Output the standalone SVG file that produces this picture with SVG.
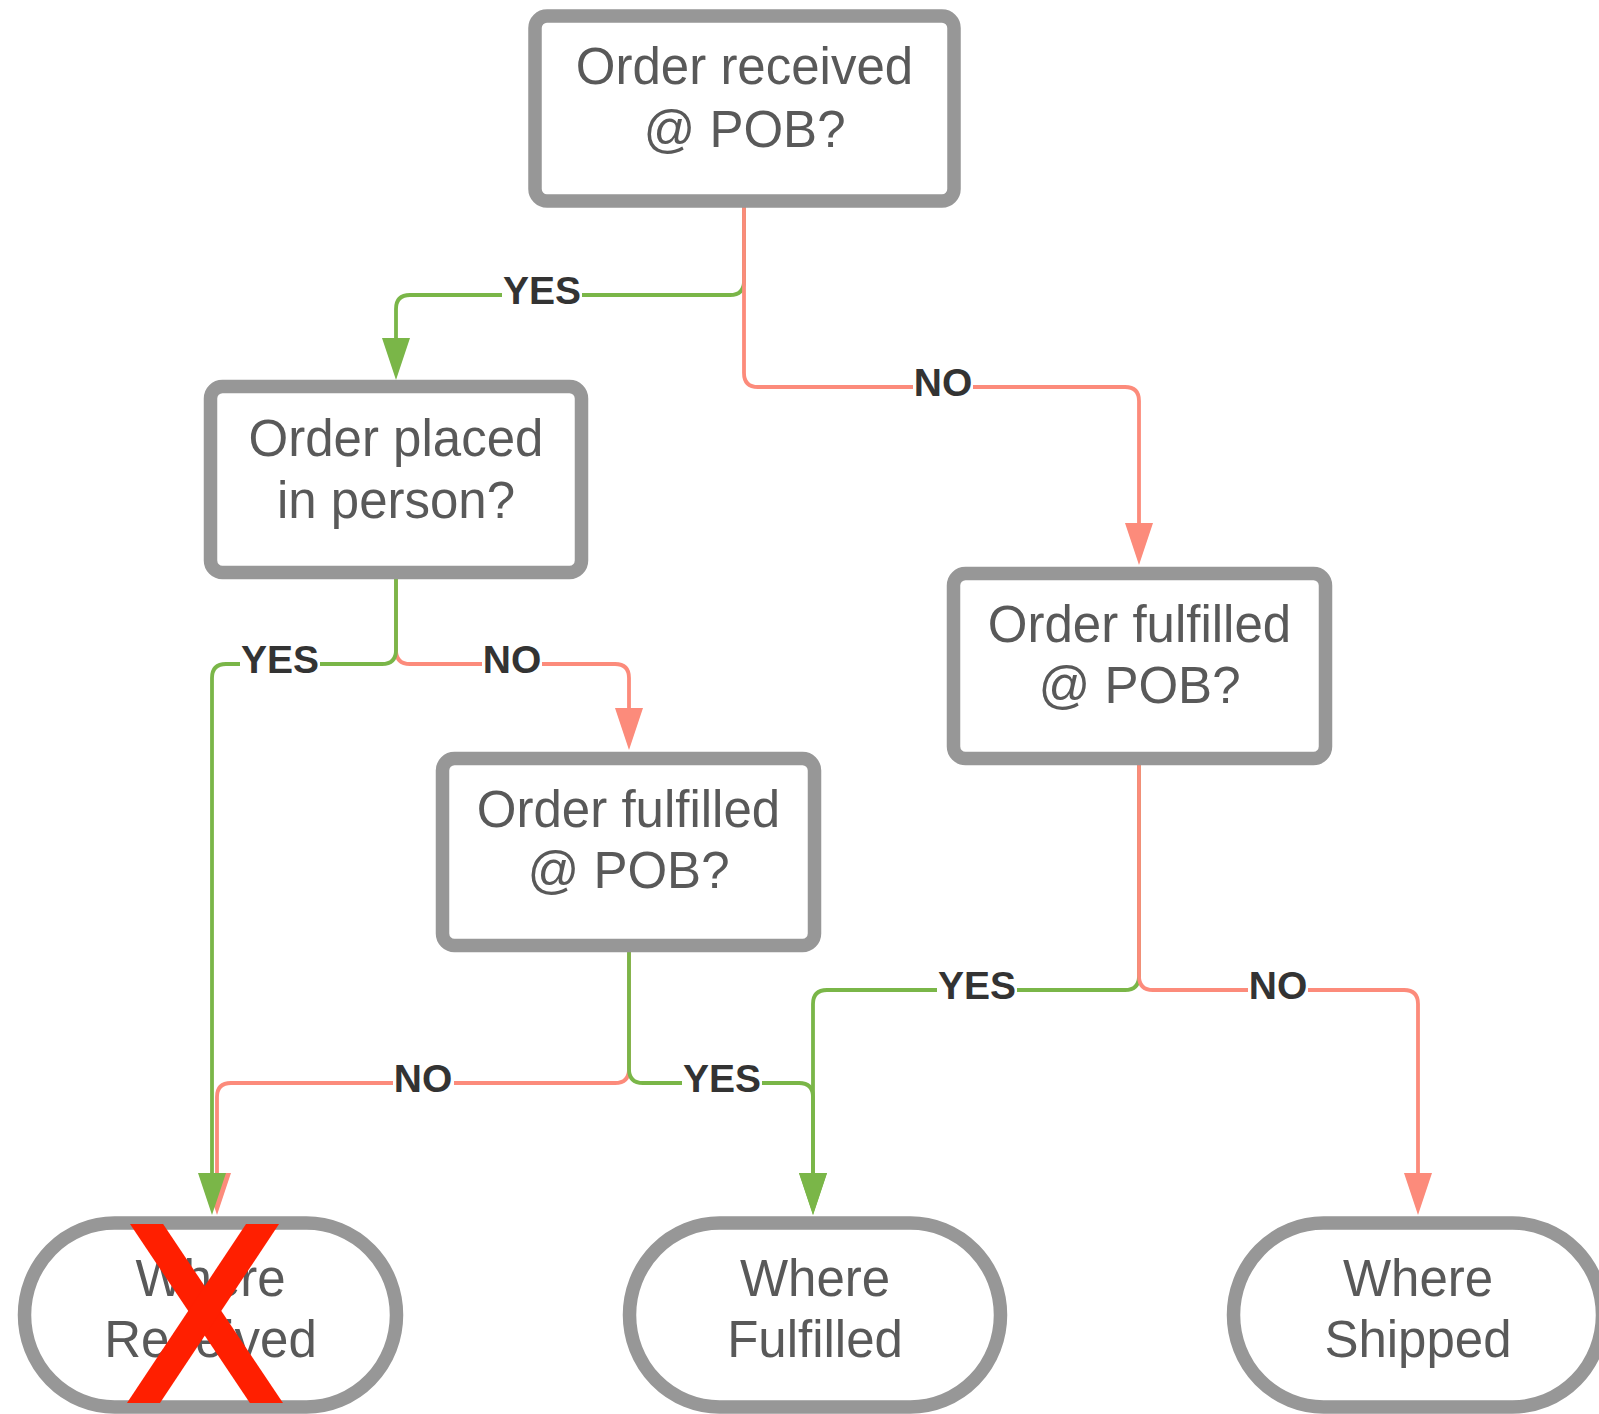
<svg xmlns="http://www.w3.org/2000/svg" width="1599" height="1414" viewBox="0 0 1599 1414">
<style>
.box{fill:#fff;stroke:#979797;stroke-width:13.5}
.nt{font-family:"Liberation Sans",Arial,sans-serif;font-size:51px;fill:#595959;text-anchor:middle}
.g{fill:none;stroke:#7ab648;stroke-width:3.8}
.r{fill:none;stroke:#fc8b7b;stroke-width:3.8}
.lbl{font-family:"Liberation Sans",Arial,sans-serif;font-size:39px;font-weight:bold;fill:#333;text-anchor:middle}
.bg{fill:#fff}
</style>
<defs>
<marker id="ag" viewBox="0 0 42 28" markerWidth="42" markerHeight="28" refX="0" refY="14" orient="auto" markerUnits="userSpaceOnUse"><path d="M0,0 L42,14 L0,28 Z" fill="#7ab648"/></marker>
<marker id="ar" viewBox="0 0 42 28" markerWidth="42" markerHeight="28" refX="0" refY="14" orient="auto" markerUnits="userSpaceOnUse"><path d="M0,0 L42,14 L0,28 Z" fill="#fc8b7b"/></marker>
<clipPath id="xclip"><rect x="0" y="1224" width="420" height="179"/></clipPath>
</defs>
<g id="connectors">
<path class="g" d="M744,201 V281 Q744,295 730,295 H410 Q396,295 396,309 V338" marker-end="url(#ag)"/>
<path class="r" d="M744,201 V373 Q744,387 758,387 H1125 Q1139,387 1139,401 V523" marker-end="url(#ar)"/>
<path class="r" d="M396,573 V650 Q396,664 410,664 H615 Q629,664 629,678 V708" marker-end="url(#ar)"/>
<path class="r" d="M629,945 V1069 Q629,1083 615,1083 H231 Q217,1083 217,1097 V1173" marker-end="url(#ar)"/>
<path class="g" d="M396,573 V650 Q396,664 382,664 H226 Q212,664 212,678 V1173" marker-end="url(#ag)"/>
<path class="g" d="M629,945 V1069 Q629,1083 643,1083 H799 Q813,1083 813,1097 V1173" marker-end="url(#ag)"/>
<path class="g" d="M1139,759 V976 Q1139,990 1125,990 H827 Q813,990 813,1004 V1173" marker-end="url(#ag)"/>
<path class="r" d="M1139,759 V976 Q1139,990 1153,990 H1404 Q1418,990 1418,1004 V1173" marker-end="url(#ar)"/>
<rect class="bg" x="502" y="274" width="80" height="34"/><text class="lbl" x="542" y="304">YES</text>
<rect class="bg" x="913" y="366" width="60" height="34"/><text class="lbl" x="943" y="396">NO</text>
<rect class="bg" x="240" y="643" width="80" height="34"/><text class="lbl" x="280" y="673">YES</text>
<rect class="bg" x="482" y="643" width="60" height="34"/><text class="lbl" x="512" y="673">NO</text>
<rect class="bg" x="393" y="1062" width="61" height="34"/><text class="lbl" x="423" y="1092">NO</text>
<rect class="bg" x="682" y="1062" width="80" height="34"/><text class="lbl" x="722" y="1092">YES</text>
<rect class="bg" x="937" y="969" width="80" height="34"/><text class="lbl" x="977" y="999">YES</text>
<rect class="bg" x="1248" y="969" width="60" height="34"/><text class="lbl" x="1278" y="999">NO</text>
</g>
<g id="n1"><rect class="box" x="535" y="16" width="419" height="185" rx="12"/><text class="nt" x="744.5" y="84">Order received</text><text class="nt" x="744.5" y="147">@ POB?</text></g>
<g id="n2"><rect class="box" x="210.5" y="386.5" width="371" height="186" rx="12"/><text class="nt" x="396" y="456">Order placed</text><text class="nt" x="396" y="518">in person?</text></g>
<g id="n3"><rect class="box" x="953.5" y="573.5" width="372" height="185" rx="12"/><text class="nt" x="1139.5" y="642">Order fulfilled</text><text class="nt" x="1139.5" y="703">@ POB?</text></g>
<g id="n4"><rect class="box" x="442.5" y="758.5" width="372" height="187" rx="12"/><text class="nt" x="628.5" y="827">Order fulfilled</text><text class="nt" x="628.5" y="888">@ POB?</text></g>
<g id="n5"><rect class="box" x="24.5" y="1223" width="372" height="184" rx="90" ry="92"/><text class="nt" x="210.5" y="1296">Where</text><text class="nt" x="210.5" y="1357">Received</text>
<g clip-path="url(#xclip)" stroke="#ff1f00" stroke-width="27.5"><line x1="134.5" y1="1206" x2="278.5" y2="1421"/><line x1="274.5" y1="1206" x2="131.5" y2="1421"/></g></g>
<g id="n6"><rect class="box" x="629.5" y="1223" width="371" height="184" rx="90" ry="92"/><text class="nt" x="815" y="1296">Where</text><text class="nt" x="815" y="1357">Fulfilled</text></g>
<g id="n7"><rect class="box" x="1233.5" y="1223" width="369" height="184" rx="90" ry="92"/><text class="nt" x="1418" y="1296">Where</text><text class="nt" x="1418" y="1357">Shipped</text></g>
</svg>
